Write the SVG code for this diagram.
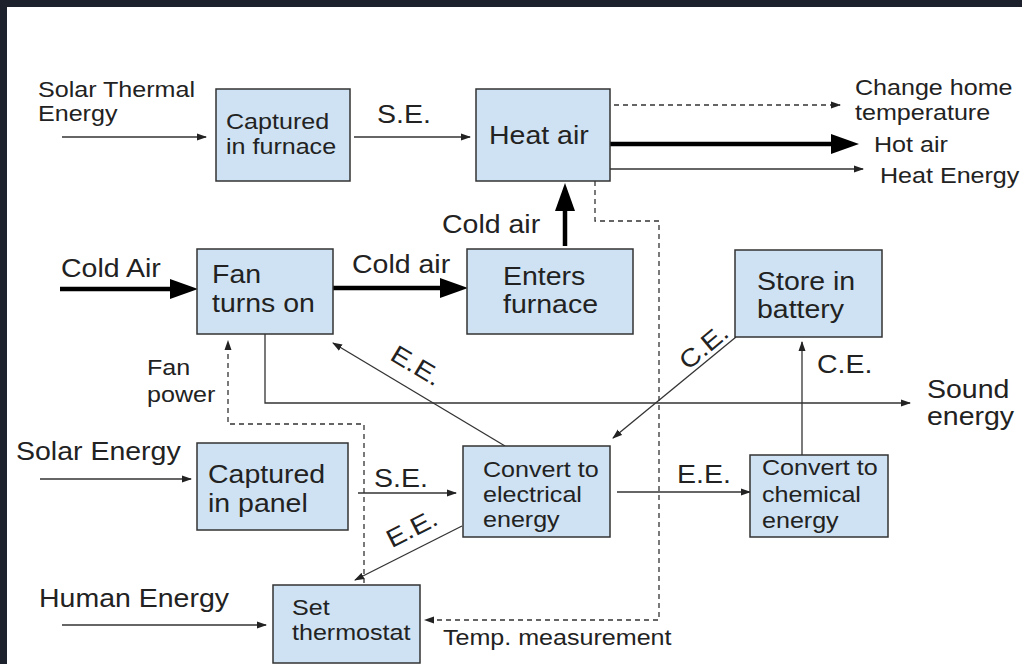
<svg xmlns="http://www.w3.org/2000/svg" width="1022" height="664" viewBox="0 0 1022 664">
<style>
.bg{fill:#ffffff}
.frame{fill:#1c212b}
.box{fill:#cfe2f3;stroke:#333333;stroke-width:1.5}
text{font-family:"Liberation Sans",Arial,sans-serif;fill:#222222}
.s{font-size:22px}
.l{font-size:25px}
.c{fill:none;stroke:#333333;stroke-width:1.3}
.d{fill:none;stroke:#333333;stroke-width:1.3;stroke-dasharray:5,4}
.k{fill:none;stroke:#000000;stroke-width:4.5}
</style>
<defs>
<marker id="a" markerUnits="userSpaceOnUse" markerWidth="10" markerHeight="8" refX="9" refY="4" orient="auto">
<path d="M0,0.5 L10,4 L0,7.5 z" fill="#222222"/>
</marker>
<marker id="b" markerUnits="userSpaceOnUse" markerWidth="28" markerHeight="22" refX="0" refY="11" orient="auto" overflow="visible">
<path d="M0,1 L28,11 L0,21 z" fill="#000000"/>
</marker>
</defs>
<rect class="bg" x="0" y="0" width="1022" height="664"/>
<rect class="frame" x="0" y="0" width="1022" height="7"/>
<rect class="frame" x="0" y="0" width="7" height="664"/>

<g id="connectors">
<path class="c" d="M62,137 H206" marker-end="url(#a)"/>
<path class="c" d="M354,137 H470" marker-end="url(#a)"/>
<path class="d" d="M614,105 H840" marker-end="url(#a)"/>
<path class="k" d="M610,144 H831" marker-end="url(#b)"/>
<path class="c" d="M610,169 H863" marker-end="url(#a)"/>
<path class="k" d="M565,246 V211" marker-end="url(#b)"/>
<path class="k" d="M60,289 H170" marker-end="url(#b)"/>
<path class="k" d="M333,288 H440" marker-end="url(#b)"/>
<path class="d" d="M364,583 V424 H228 V341" marker-end="url(#a)"/>
<path class="c" d="M265,334 V403 H910" marker-end="url(#a)"/>
<path class="d" d="M595,181 V221 H659 V620 H425" marker-end="url(#a)"/>
<path class="c" d="M505,446 L333,343" marker-end="url(#a)"/>
<path class="c" d="M736,337 L613,438" marker-end="url(#a)"/>
<path class="c" d="M802,455 V342" marker-end="url(#a)"/>
<path class="c" d="M358,493 H456" marker-end="url(#a)"/>
<path class="c" d="M617,492 H750" marker-end="url(#a)"/>
<path class="c" d="M462,526 L355,580" marker-end="url(#a)"/>
<path class="c" d="M40,479 H191" marker-end="url(#a)"/>
<path class="c" d="M62,625 H266" marker-end="url(#a)"/>
</g>

<g id="labels">
<text class="s" transform="translate(38,97) scale(1.14,1)"><tspan x="0" y="0">Solar Thermal</tspan><tspan x="0" y="24">Energy</tspan></text>
<text class="l" transform="translate(377,123) scale(1.14,1)">S.E.</text>
<text class="s" transform="translate(855,95) scale(1.14,1)"><tspan x="0" y="0">Change home</tspan><tspan x="0" y="25">temperature</tspan></text>
<text class="s" transform="translate(874,152) scale(1.14,1)">Hot air</text>
<text class="s" transform="translate(880,183) scale(1.14,1)">Heat Energy</text>
<text class="l" transform="translate(442,233) scale(1.14,1)">Cold air</text>
<text class="l" transform="translate(61,277) scale(1.14,1)">Cold Air</text>
<text class="l" transform="translate(352,273) scale(1.14,1)">Cold air</text>
<text class="s" transform="translate(147,375) scale(1.14,1)"><tspan x="0" y="0">Fan</tspan><tspan x="0" y="27">power</tspan></text>
<text class="l" text-anchor="middle" transform="translate(416,366) rotate(31) scale(1.14,1)" y="8">E.E.</text>
<text class="l" text-anchor="middle" transform="translate(704,347) rotate(-40) scale(1.14,1)" y="8">C.E.</text>
<text class="l" transform="translate(817,373) scale(1.14,1)">C.E.</text>
<text class="l" transform="translate(927,398) scale(1.14,1)"><tspan x="0" y="0">Sound</tspan><tspan x="0" y="27">energy</tspan></text>
<text class="l" transform="translate(16,460) scale(1.14,1)">Solar Energy</text>
<text class="l" transform="translate(374,487) scale(1.14,1)">S.E.</text>
<text class="l" transform="translate(677,483) scale(1.14,1)">E.E.</text>
<text class="l" text-anchor="middle" transform="translate(412,529) rotate(-27) scale(1.14,1)" y="8">E.E.</text>
<text class="l" transform="translate(39,607) scale(1.14,1)">Human Energy</text>
<text class="s" transform="translate(443,645) scale(1.14,1)">Temp. measurement</text>
</g>

<g id="captured-furnace">
<rect class="box" x="216" y="89" width="134" height="92"/>
<text class="s" transform="translate(226,129) scale(1.14,1)"><tspan x="0" y="0">Captured</tspan><tspan x="0" y="25">in furnace</tspan></text>
</g>
<g id="heat-air">
<rect class="box" x="476" y="89" width="134" height="92"/>
<text class="l" transform="translate(489,144) scale(1.14,1)">Heat air</text>
</g>
<g id="fan-turns-on">
<rect class="box" x="197" y="249" width="136" height="85"/>
<text class="l" transform="translate(212,283) scale(1.14,1)"><tspan x="0" y="0">Fan</tspan><tspan x="0" y="29">turns on</tspan></text>
</g>
<g id="enters-furnace">
<rect class="box" x="467" y="249" width="166" height="85"/>
<text class="l" transform="translate(503,285) scale(1.14,1)"><tspan x="0" y="0">Enters</tspan><tspan x="0" y="28">furnace</tspan></text>
</g>
<g id="store-battery">
<rect class="box" x="735" y="250" width="147" height="87"/>
<text class="l" transform="translate(757,290) scale(1.14,1)"><tspan x="0" y="0">Store in</tspan><tspan x="0" y="28">battery</tspan></text>
</g>
<g id="captured-panel">
<rect class="box" x="197" y="443" width="151" height="87"/>
<text class="l" transform="translate(208,483) scale(1.14,1)"><tspan x="0" y="0">Captured</tspan><tspan x="0" y="29">in panel</tspan></text>
</g>
<g id="convert-electrical">
<rect class="box" x="463" y="446" width="147" height="91"/>
<text class="s" transform="translate(483,477) scale(1.14,1)"><tspan x="0" y="0">Convert to</tspan><tspan x="0" y="25">electrical</tspan><tspan x="0" y="50">energy</tspan></text>
</g>
<g id="convert-chemical">
<rect class="box" x="750" y="455" width="138" height="82"/>
<text class="s" transform="translate(762,475) scale(1.14,1)"><tspan x="0" y="0">Convert to</tspan><tspan x="0" y="27">chemical</tspan><tspan x="0" y="53">energy</tspan></text>
</g>
<g id="set-thermostat">
<rect class="box" x="273" y="585" width="147" height="78"/>
<text class="s" transform="translate(292,615) scale(1.14,1)"><tspan x="0" y="0">Set</tspan><tspan x="0" y="25">thermostat</tspan></text>
</g>
</svg>
